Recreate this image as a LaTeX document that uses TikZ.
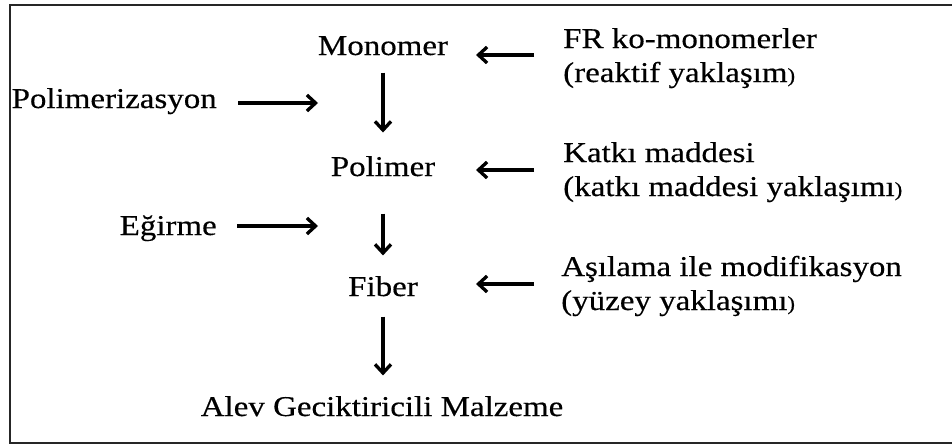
\documentclass[tikz,border=0pt]{standalone}
\usepackage{fontspec}
\setmainfont{Liberation Serif}[FakeStretch=1.15,FakeBold=0.4]
\usetikzlibrary{arrows.meta}
\newcommand{\smallparen}{{\fontsize{15}{15}\selectfont )}}
\begin{document}
\begin{tikzpicture}[x=0.75pt,y=-0.75pt,
  lbl/.style={inner sep=0pt, font=\fontsize{21.5}{25.5}\selectfont},
  arr/.style={line width=2.5pt, -{Straight Barb[length=6.5pt,width=12pt]}},
  frame/.style={line width=1.8pt, draw=black!85}]
\useasboundingbox (0,0) rectangle (952,446);
\draw[frame] (970,5) -- (10,5) -- (10,443) -- (970,443);

% main column
\node[lbl, anchor=base] (mono) at (383,55) {Monomer};
\node[lbl, anchor=base] (poly) at (383,176) {Polimer};
\node[lbl, anchor=base] (fib)  at (383,296) {Fiber};
\node[lbl, anchor=base] (alev) at (382,416) {Alev Geciktiricili Malzeme};

% left labels
\node[lbl, anchor=base east] (pz) at (217,108) {Polimerizasyon};
\node[lbl, anchor=base east] (eg) at (217,235) {Eğirme};

% right labels
\node[lbl, anchor=base west] (fr) at (563,48)
  {\begin{tabular}[t]{@{}l@{}}FR ko-monomerler\\(reaktif yaklaşım\smallparen\end{tabular}};
\node[lbl, anchor=base west] (kat) at (563,162)
  {\begin{tabular}[t]{@{}l@{}}Katkı maddesi\\(katkı maddesi yaklaşımı\smallparen\end{tabular}};
\node[lbl, anchor=base west] (asi) at (561,276)
  {\begin{tabular}[t]{@{}l@{}}Aşılama ile modifikasyon\\(yüzey yaklaşımı\smallparen\end{tabular}};

% coordinates for free arrow ends
\coordinate (pzA) at (238,103);
\coordinate (pzB) at (318,103);
\coordinate (egA) at (237,226);
\coordinate (egB) at (318,226);
\coordinate (frA) at (534,55);
\coordinate (frB) at (476,55);
\coordinate (katA) at (534,170);
\coordinate (katB) at (476,170);
\coordinate (asiA) at (534,284);
\coordinate (asiB) at (476,284);

% vertical arrows
\draw[arr] ([yshift=-12.75pt]mono.south) -- ([yshift=17.5pt]poly.north);
\draw[arr] ([yshift=-27.75pt]poly.south) -- ([yshift=15.3pt]fib.north);
\draw[arr] ([yshift=-15pt]fib.south) -- ([yshift=15.3pt]alev.north -| fib.south);

% horizontal arrows
\draw[arr] (pzA) -- (pzB);
\draw[arr] (egA) -- (egB);
\draw[arr] (frA) -- (frB);
\draw[arr] (katA) -- (katB);
\draw[arr] (asiA) -- (asiB);
\end{tikzpicture}
\end{document}
